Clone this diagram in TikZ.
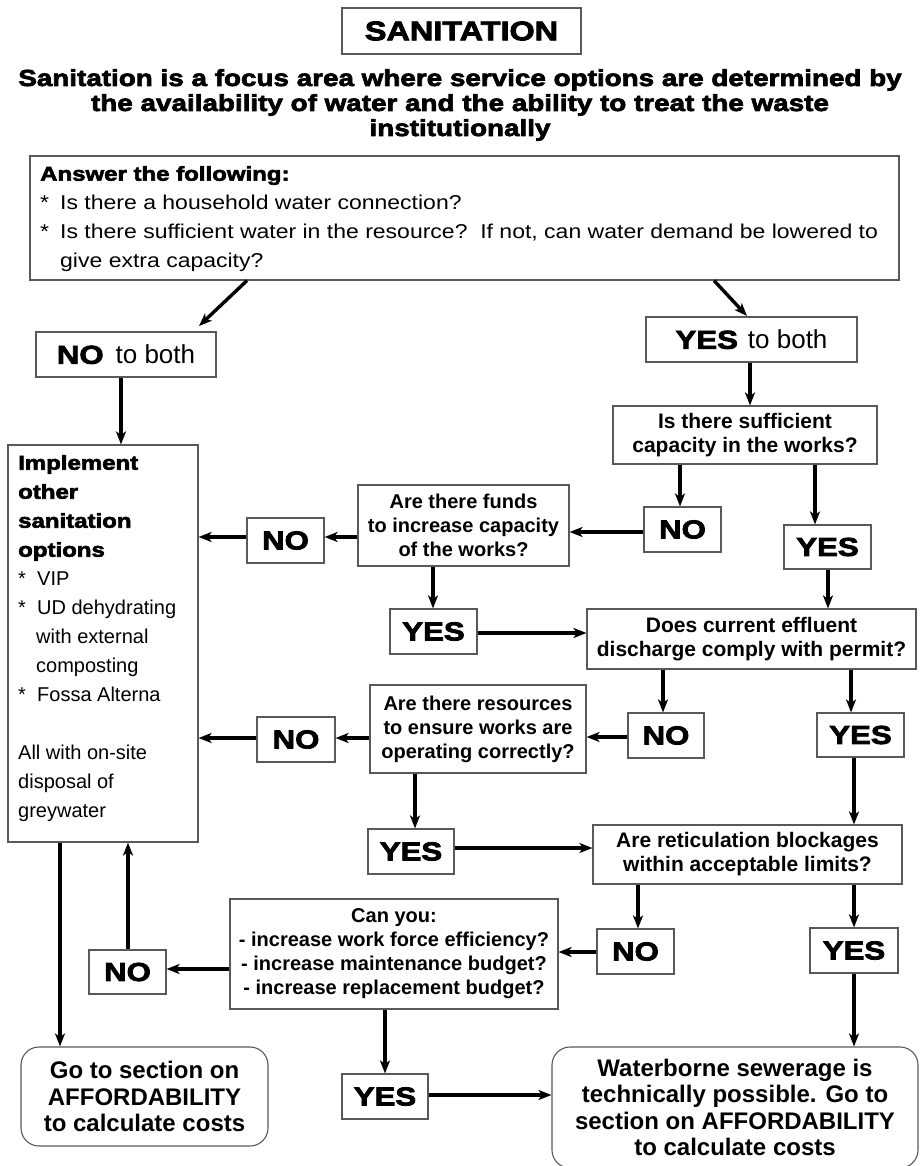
\documentclass[tikz,border=0pt]{standalone}
\usepackage{fontspec}
\setmainfont{Liberation Sans}
\newfontfamily\heavy{Liberation Sans Bold}[FakeBold=3,FakeStretch=1.2]
\newfontfamily\wide{Liberation Sans}[FakeStretch=1.15]
\usetikzlibrary{arrows.meta}
\tikzset{
  box/.style={draw=black!65, line width=1.1pt, fill=white, inner sep=0pt, align=center},
  qbox/.style={box, font=\fontsize{21}{24}\selectfont\bfseries},
  sbox/.style={box, font=\fontsize{20}{24}\selectfont\bfseries},
  yn/.style={box, font=\fontsize{26}{30}\selectfont\heavy},
  endbox/.style={box, rounded corners=18pt, font=\fontsize{24}{26.5}\selectfont\bfseries},
  arr/.style={line width=3.4pt, -{Stealth[length=13pt,width=10pt,inset=3.5pt]}},
}
\begin{document}
\begin{tikzpicture}[x=1pt,y=-1pt]
\useasboundingbox[fill=white] (0,0) rectangle (919,1166);

% title and subtitle
\node[box, font=\fontsize{27}{30}\selectfont\heavy, minimum width=239pt, minimum height=46pt] (title) at (461.5,31) {SANITATION};
\node[font=\fontsize{23.2}{25}\selectfont\heavy, align=center, inner sep=0pt] (sub) at (460,105)
  {Sanitation is a focus area where service options are determined by\\
   the availability of water and the ability to treat the waste\\
   institutionally};

% answer box
\node[box, minimum width=869pt, minimum height=124pt] (ans) at (464.5,218) {};
\node[anchor=north west, inner sep=0pt, align=left, font=\fontsize{20}{29}\selectfont\wide] (anstxt) at (40,166)
  {{\heavy Answer the following:}\\
   \makebox[20pt][l]{*}Is there a household water connection?\\
   \makebox[20pt][l]{*}Is there sufficient water in the resource?\ \ If not, can water demand be lowered to\\
   \hspace*{20pt}give extra capacity?};

% implement box
\node[box, minimum width=190pt, minimum height=397pt] (impl) at (103,643.5) {};
\node[anchor=north west, inner sep=0pt, align=left, font=\fontsize{20}{29}\selectfont] (impltxt) at (18,455)
  {{\heavy Implement}\\{\heavy other}\\{\heavy sanitation}\\{\heavy options}\\
   \makebox[19pt][l]{*}VIP\\
   \makebox[19pt][l]{*}UD dehydrating\\
   \hspace*{18pt}with external\\
   \hspace*{18pt}composting\\
   \makebox[19pt][l]{*}Fossa Alterna\\[29pt]
   All with on-site\\disposal of\\greywater};

% yes / no boxes
\node[yn, minimum width=180pt, minimum height=45pt] (nob) at (126,354.5) {NO\hspace{12pt}{\rmfamily to both}};
\node[yn, minimum width=211pt, minimum height=45pt] (yesb) at (751.5,339.5) {YES\hspace{10pt}{\rmfamily to both}};
\node[yn, minimum width=77pt, minimum height=45pt] (no1) at (682.5,529.5) {NO};
\node[yn, minimum width=87pt, minimum height=44pt] (yes1) at (827.5,547) {YES};
\node[yn, minimum width=77pt, minimum height=45pt] (nof) at (285.5,540.5) {NO};
\node[yn, minimum width=87pt, minimum height=45pt] (yes2) at (433.5,631.5) {YES};
\node[yn, minimum width=76pt, minimum height=45pt] (no2) at (666,735.5) {NO};
\node[yn, minimum width=87pt, minimum height=44pt] (yes3) at (860.5,735) {YES};
\node[yn, minimum width=78pt, minimum height=45pt] (nor) at (296,739.5) {NO};
\node[yn, minimum width=86pt, minimum height=45pt] (yes4) at (411,851.5) {YES};
\node[yn, minimum width=77pt, minimum height=45pt] (no3) at (635.5,951.5) {NO};
\node[yn, minimum width=88pt, minimum height=45pt] (yes5) at (854,950.5) {YES};
\node[yn, minimum width=77pt, minimum height=44pt] (noc) at (127.5,972) {NO};
\node[yn, minimum width=86pt, minimum height=45pt] (yes6) at (385,1096.5) {YES};

% question boxes
\node[qbox, minimum width=264pt, minimum height=58pt] (cap) at (745,435) {Is there sufficient\\capacity in the works?};
\node[sbox, minimum width=211pt, minimum height=81pt] (funds) at (463.5,525.5) {Are there funds\\to increase capacity\\of the works?};
\node[qbox, minimum width=329pt, minimum height=60pt] (eff) at (751.5,639) {Does current effluent\\discharge comply with permit?};
\node[sbox, minimum width=216pt, minimum height=88pt] (res) at (478,729) {Are there resources\\to ensure works are\\operating correctly?};
\node[qbox, minimum width=309pt, minimum height=59pt] (retic) at (747.5,854.5) {Are reticulation blockages\\within acceptable limits?};
\node[sbox, minimum width=328pt, minimum height=110pt] (can) at (394,954) {Can you:\\- increase work force efficiency?\\- increase maintenance budget?\\- increase replacement budget?};
\node[endbox, minimum width=247pt, minimum height=99pt] (goto) at (144.5,1096.5) {Go to section on\\AFFORDABILITY\\to calculate costs};
\node[endbox, minimum width=366pt, minimum height=121pt] (water) at (735,1107.5) {Waterborne sewerage is\\technically possible. Go to\\section on AFFORDABILITY\\to calculate costs};

% helper coordinates
\coordinate (ax1) at (247,0);
\coordinate (ae1) at (199,326);
\coordinate (ax2) at (714,0);
\coordinate (ae2) at (747,316);
\coordinate (cx121) at (121,0);
\coordinate (cx750) at (750,0);
\coordinate (cx680) at (680,0);
\coordinate (cx815) at (815,0);
\coordinate (cx433) at (433,0);
\coordinate (cx828) at (828,0);
\coordinate (cx663) at (663,0);
\coordinate (cx851) at (851,0);
\coordinate (cx415) at (415,0);
\coordinate (cx854) at (854,0);
\coordinate (cx638) at (638,0);
\coordinate (cx128) at (128,0);
\coordinate (cx60) at (60,0);
\coordinate (cx385) at (385,0);
\coordinate (cy532) at (0,532);
\coordinate (cy537) at (0,537);
\coordinate (cy633) at (0,633);
\coordinate (cy737) at (0,737);
\coordinate (cy738) at (0,738);
\coordinate (cy848) at (0,848);
\coordinate (cy952) at (0,952);
\coordinate (cy969) at (0,969);
\coordinate (cy1095) at (0,1095);

% connectors
\draw[arr] (ans.south -| ax1) -- (ae1);
\draw[arr] (ans.south -| ax2) -- (ae2);
\draw[arr] (nob.south -| cx121) -- (impl.north -| cx121);
\draw[arr] (yesb.south -| cx750) -- (cap.north -| cx750);
\draw[arr] (cap.south -| cx680) -- (no1.north -| cx680);
\draw[arr] (cap.south -| cx815) -- (yes1.north -| cx815);
\draw[arr] (no1.west |- cy532) -- (funds.east |- cy532);
\draw[arr] (funds.west |- cy537) -- (nof.east |- cy537);
\draw[arr] (nof.west |- cy537) -- (impl.east |- cy537);
\draw[arr] (funds.south -| cx433) -- (yes2.north -| cx433);
\draw[arr] (yes2.east |- cy633) -- (eff.west |- cy633);
\draw[arr] (yes1.south -| cx828) -- (eff.north -| cx828);
\draw[arr] (eff.south -| cx663) -- (no2.north -| cx663);
\draw[arr] (eff.south -| cx851) -- (yes3.north -| cx851);
\draw[arr] (no2.west |- cy737) -- (res.east |- cy737);
\draw[arr] (res.west |- cy738) -- (nor.east |- cy738);
\draw[arr] (nor.west |- cy738) -- (impl.east |- cy738);
\draw[arr] (res.south -| cx415) -- (yes4.north -| cx415);
\draw[arr] (yes4.east |- cy848) -- (retic.west |- cy848);
\draw[arr] (yes3.south -| cx854) -- (retic.north -| cx854);
\draw[arr] (retic.south -| cx638) -- (no3.north -| cx638);
\draw[arr] (retic.south -| cx854) -- (yes5.north -| cx854);
\draw[arr] (no3.west |- cy952) -- (can.east |- cy952);
\draw[arr] (can.west |- cy969) -- (noc.east |- cy969);
\draw[arr] (noc.north -| cx128) -- (impl.south -| cx128);
\draw[arr] (impl.south -| cx60) -- (goto.north -| cx60);
\draw[arr] (can.south -| cx385) -- (yes6.north -| cx385);
\draw[arr] (yes6.east |- cy1095) -- (water.west |- cy1095);
\draw[arr] (yes5.south -| cx854) -- (water.north -| cx854);
\end{tikzpicture}
\end{document}
